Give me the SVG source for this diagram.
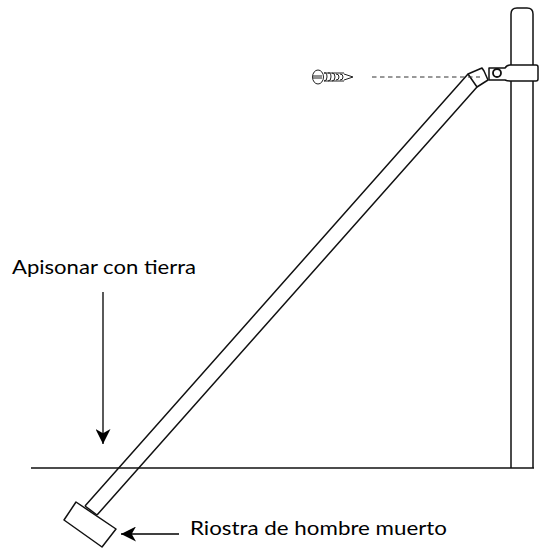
<svg xmlns="http://www.w3.org/2000/svg" width="548" height="548" viewBox="0 0 548 548">
<defs>
<marker id="arrow" viewBox="0 0 14 14" refX="14" refY="7" markerUnits="userSpaceOnUse" markerWidth="15" markerHeight="15" orient="auto"><path d="M0 0L14 7L0 14L4 7Z" fill="#000"/></marker>
</defs>
<style>
.l{fill:none;stroke:#111;stroke-width:1.5;stroke-linejoin:round}
.w{fill:#fff;stroke:#111;stroke-width:1.5;stroke-linejoin:round}
.t{font-family:Lato,"Liberation Sans",sans-serif;font-size:20px;fill:#000}
.s{fill:none;stroke:#222;stroke-width:1}
</style>
<rect width="548" height="548" fill="#fff"/>
<g id="ground"><path class="l" d="M31 468H534"/></g>
<g id="post"><path class="l" d="M511 468V14Q511 8 517 8H527Q533 8 533 14V468"/></g>
<g id="brace">
<path class="l" d="M85 506L468 74M97 515L477 87"/>
<path class="l" d="M85 506L97 515"/>
</g>
<g id="dead-man"><path class="w" d="M76 502L116 529L102 547L64 520Z"/></g>
<g id="fitting">
<path class="w" d="M468 74L482 68L484 71L488 80L477 87Z"/>
<path class="w" d="M489 68H505Q507 65 510 65H536Q538 65 538 67V79Q538 81 536 81H510Q507 81 505 80H489Z"/>
<circle cx="497" cy="73" r="4" fill="none" stroke="#111" stroke-width="1.800"/>
</g>
<g id="screw">
<ellipse cx="318" cy="77" rx="5.500" ry="7" class="s" stroke-width=".8"/>
<path class="s" d="M313 76H322M313 78H322"/>
<path class="s" d="M324 73Q327 72 327 77Q327 81 324 81M328 73Q331 72 331 77Q331 81 328 81M332 73Q335 73 335 77Q335 81 332 81M336 74Q339 74 339 77Q339 80 336 80M340 74Q343 74 343 77Q343 80 340 80M324 73H344M324 81H344M344 74L353 77L344 80"/>
</g>
<g id="connectors">
<path d="M372 77H480" fill="none" stroke="#333" stroke-width="1" stroke-dasharray="4.500 3.500"/>
<path d="M103 292V444" fill="none" stroke="#000" stroke-width="1.300" marker-end="url(#arrow)"/>
<path d="M179 534H121" fill="none" stroke="#000" stroke-width="1.300" marker-end="url(#arrow)"/>
</g>
<text class="t" x="12" y="274" textLength="184" lengthAdjust="spacingAndGlyphs">Apisonar con tierra</text>
<text class="t" x="190" y="535" textLength="257" lengthAdjust="spacingAndGlyphs">Riostra de hombre muerto</text>
</svg>
